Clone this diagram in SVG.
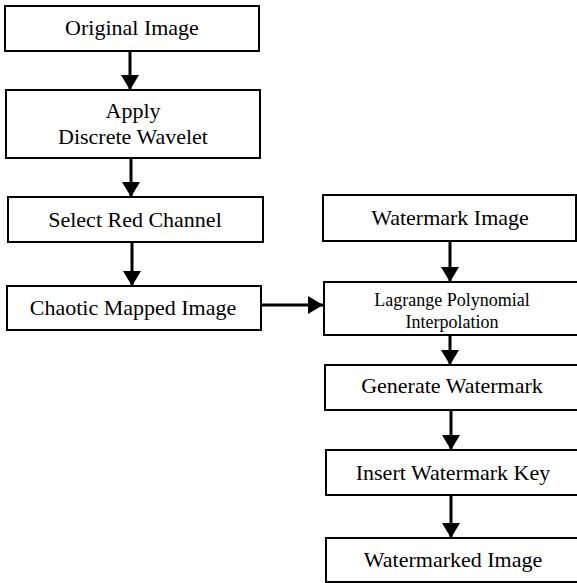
<svg xmlns="http://www.w3.org/2000/svg" width="577" height="583" viewBox="0 0 577 583">
<style>
.box{fill:#fff;stroke:#000;stroke-width:2}
.t{font-family:"Liberation Serif","Times New Roman",serif;font-size:22px;fill:#000;text-anchor:middle}
.s{font-size:18px}
.c{stroke:#000;stroke-width:3;fill:none;marker-end:url(#ah)}
</style>
<defs>
<marker id="ah" markerUnits="userSpaceOnUse" markerWidth="16" markerHeight="18" viewBox="0 0 16 18" refX="15" refY="9" orient="auto">
<path d="M0,0 L15,9 L0,18 Z" fill="#000"/>
</marker>
<clipPath id="lagclip"><rect x="324" y="282" width="260" height="52"/></clipPath>
</defs>
<g id="n1"><rect class="box" x="5" y="6" width="254" height="45"/><text class="t" x="132" y="35">Original Image</text></g>
<g id="n2"><rect class="box" x="6" y="90" width="254" height="68"/><text class="t" x="133" y="118">Apply</text><text class="t" x="133" y="144">Discrete Wavelet</text></g>
<g id="n3"><rect class="box" x="8" y="197" width="255" height="45"/><text class="t" x="135" y="227">Select Red Channel</text></g>
<g id="n4"><rect class="box" x="7" y="286" width="254" height="44"/><text class="t" x="133" y="315">Chaotic Mapped Image</text></g>
<g id="n5"><rect class="box" x="323" y="195" width="253" height="46"/><text class="t" x="450" y="225">Watermark Image</text></g>
<g id="n6"><rect class="box" x="324" y="282" width="258" height="53"/><g clip-path="url(#lagclip)"><text class="t s" x="452" y="306">Lagrange Polynomial</text><text class="t s" x="452" y="328">Interpolation</text></g></g>
<g id="n7"><rect class="box" x="325" y="365" width="258" height="45"/><text class="t" x="452" y="393">Generate Watermark</text></g>
<g id="n8"><rect class="box" x="326" y="450" width="258" height="45"/><text class="t" x="453" y="480">Insert Watermark Key</text></g>
<g id="n9"><rect class="box" x="326" y="538" width="258" height="44"/><text class="t" x="453" y="567">Watermarked Image</text></g>
<g id="connectors">
<line class="c" x1="130" y1="51" x2="130" y2="90"/>
<line class="c" x1="131" y1="158" x2="131" y2="197"/>
<line class="c" x1="132" y1="242" x2="132" y2="286"/>
<line class="c" x1="261" y1="305" x2="323" y2="305"/>
<line class="c" x1="450" y1="241" x2="450" y2="282"/>
<line class="c" x1="450" y1="335" x2="450" y2="365"/>
<line class="c" x1="451" y1="410" x2="451" y2="450"/>
<line class="c" x1="451" y1="495" x2="451" y2="538"/>
</g>
</svg>
